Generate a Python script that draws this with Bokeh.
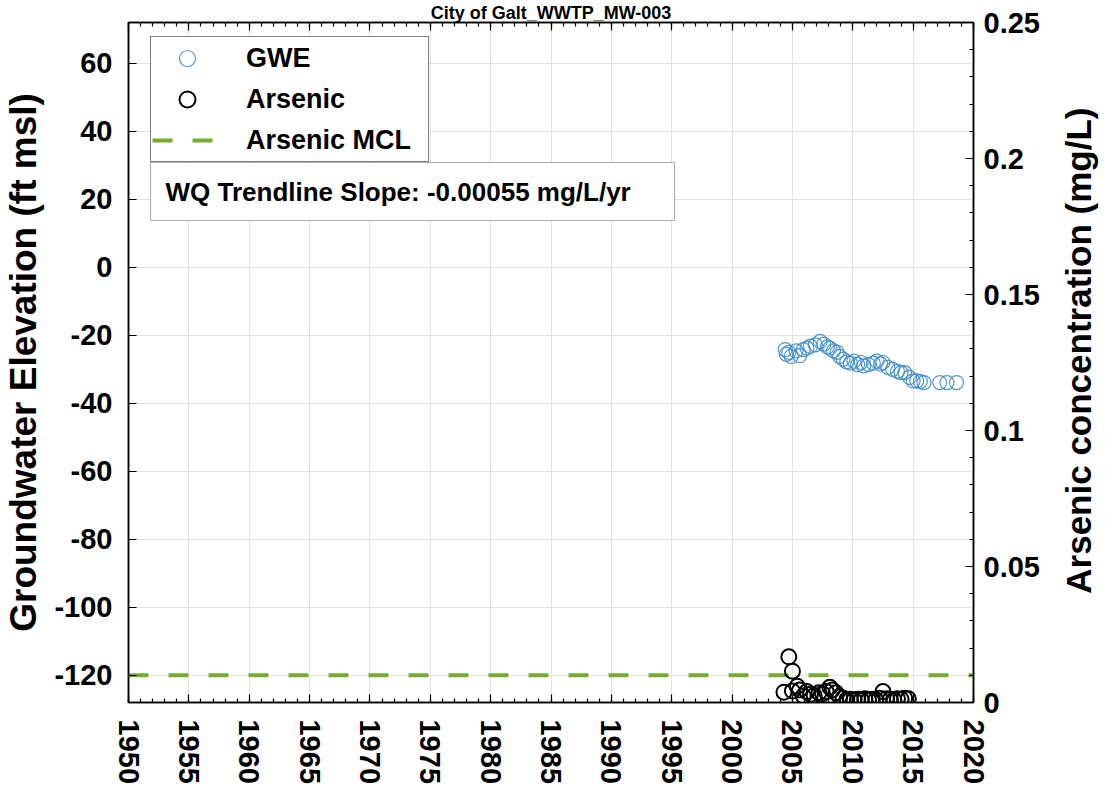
import math
from bokeh.plotting import figure
from bokeh.layouts import row
from bokeh.models import (Range1d, LinearAxis, FixedTicker, CustomJSTickFormatter,
                          Legend, LegendItem, Label, BoxAnnotation, Grid)
from bokeh.core.properties import value
from bokeh.embed import file_html
from bokeh.resources import INLINE

# ---------------- data ----------------
title_text = "City of Galt_WWTP_MW-003"
left_label = "Groundwater Elevation (ft msl)"
right_label = "Arsenic concentration (mg/L)"
slope_text = "WQ Trendline Slope: -0.00055 mg/L/yr"

x_ticks = [1950, 1955, 1960, 1965, 1970, 1975, 1980, 1985, 1990, 1995, 2000, 2005, 2010, 2015, 2020]
x_minor = list(range(1950, 2021))
gwe_ticks = [-120, -100, -80, -60, -40, -20, 0, 20, 40, 60]
as_ticks = [0, 0.05, 0.1, 0.15, 0.2, 0.25]
as_minor = [0, 0.01, 0.02, 0.03, 0.04, 0.05, 0.06, 0.07, 0.08, 0.09, 0.1, 0.11, 0.12,
            0.13, 0.14, 0.15, 0.16, 0.17, 0.18, 0.19, 0.2, 0.21, 0.22, 0.23, 0.24, 0.25]

gwe_year = [2004.4, 2004.5, 2004.7, 2004.9, 2005.3, 2005.6, 2005.9, 2006.2, 2006.5, 2006.9,
            2007.3, 2007.6, 2007.9, 2008.1, 2008.4, 2008.7, 2008.9, 2009.2, 2009.5, 2009.8,
            2010.1, 2010.4, 2010.7, 2010.9, 2011.3, 2011.7, 2012.0, 2012.3, 2012.5, 2012.9,
            2013.3, 2013.7, 2014.0, 2014.3, 2014.7, 2015.0, 2015.3, 2015.6, 2015.9,
            2017.2, 2017.8, 2018.6]
gwe_value = [-24.2, -25.6, -25.0, -26.2, -24.6, -26.0, -24.2, -23.8, -23.2, -22.8,
             -21.8, -22.6, -23.4, -23.8, -24.6, -25.0, -26.2, -27.0, -27.8, -28.2,
             -27.6, -28.6, -28.0, -29.0, -28.6, -28.2, -27.6, -28.4, -28.0, -29.4,
             -30.0, -30.6, -31.0, -31.0, -32.4, -33.4, -33.4, -33.6, -33.9,
             -33.9, -33.9, -33.9]

as_year = [2004.3, 2004.7, 2005.0, 2005.0, 2005.4, 2005.6, 2005.9, 2006.2, 2006.5, 2006.8,
           2007.2, 2007.5, 2007.8, 2008.1, 2008.3, 2008.6, 2008.9, 2009.2, 2009.5, 2009.8,
           2010.1, 2010.4, 2010.7, 2011.0, 2011.3, 2011.6, 2011.9, 2012.2, 2012.5, 2012.8,
           2013.1, 2013.4, 2013.7, 2014.0, 2014.3, 2014.6]
as_value = [0.0038, 0.0168, 0.0115, 0.0042, 0.0060, 0.0046, 0.0024, 0.0040, 0.0030, 0.0026,
            0.0036, 0.0032, 0.0040, 0.0056, 0.0046, 0.0036, 0.0022, 0.0016, 0.0010, 0.0012,
            0.0010, 0.0012, 0.0010, 0.0014, 0.0010, 0.0012, 0.0010, 0.0016, 0.0040, 0.0014,
            0.0012, 0.0010, 0.0014, 0.0012, 0.0016, 0.0014]

mcl_years = [1950, 2020]
mcl_value = [0.01, 0.01]

x_lim = (1950, 2020)
gwe_lim = (-128, 72)
as_lim = (0, 0.25)

# ---------------- layout / styles ----------------
FONT = "Liberation Sans"
BLUE = "#3d8cc6"
GREEN = "#77AC30"
GRID = "#e2e2e2"

FW, FH = 845, 680
TOP, BOTTOM, LEFT, RIGHT = 22, 82, 126, 80
H = TOP + FH + BOTTOM

p = figure(frame_width=FW, frame_height=FH,
           x_range=Range1d(*x_lim), y_range=Range1d(*gwe_lim),
           x_axis_type=None, y_axis_type=None,
           output_backend="svg", toolbar_location=None,
           min_border_left=LEFT, min_border_right=RIGHT,
           min_border_top=TOP, min_border_bottom=BOTTOM)
p.extra_y_ranges = {"as": Range1d(*as_lim)}
p.outline_line_color = "black"
p.outline_line_width = 1.5
p.background_fill_color = "white"
p.border_fill_color = "white"
p.title.text = title_text
p.title.align = "center"
p.title.text_font = FONT
p.title.text_font_style = "bold"
p.title.text_font_size = "18px"
p.title.text_color = "black"
p.title.standoff = 0

x_ticker = FixedTicker(ticks=x_ticks, minor_ticks=x_minor)
gwe_ticker = FixedTicker(ticks=gwe_ticks, minor_ticks=[])
as_ticker = FixedTicker(ticks=as_ticks, minor_ticks=as_minor)
plain = CustomJSTickFormatter(code="return tick.toString()")


def style_axis(ax):
    ax.axis_line_color = "black"
    ax.axis_line_width = 1.5
    ax.major_tick_in = 8
    ax.major_tick_out = 0
    ax.minor_tick_in = 4
    ax.minor_tick_out = 0
    ax.major_tick_line_color = "black"
    ax.minor_tick_line_color = "black"
    ax.major_tick_line_width = 1.2
    ax.minor_tick_line_width = 1.2
    ax.major_label_text_font = FONT
    ax.major_label_text_font_style = "bold"
    ax.major_label_text_font_size = "29px"
    ax.major_label_text_color = "black"


p.add_layout(Grid(dimension=0, ticker=x_ticker, grid_line_color=GRID, grid_line_width=1))
p.add_layout(Grid(dimension=1, ticker=gwe_ticker, grid_line_color=GRID, grid_line_width=1))

xb = LinearAxis(ticker=x_ticker, formatter=plain)
style_axis(xb)
xb.major_label_orientation = -math.pi / 2
xb.major_label_standoff = 17
p.add_layout(xb, "below")

xt = LinearAxis(ticker=x_ticker, formatter=CustomJSTickFormatter(code="return ''"))
style_axis(xt)
xt.major_label_text_font_size = "1px"
xt.major_label_standoff = 0
p.add_layout(xt, "above")

yl = LinearAxis(ticker=gwe_ticker, formatter=plain)
style_axis(yl)
yl.major_label_standoff = 16
yl.axis_label = left_label
yl.axis_label_text_font = FONT
yl.axis_label_text_font_style = "bold"
yl.axis_label_text_font_size = "37px"
yl.axis_label_text_color = "black"
yl.axis_label_standoff = 7
p.add_layout(yl, "left")

yr = LinearAxis(ticker=as_ticker, y_range_name="as", formatter=plain)
style_axis(yr)
yr.major_label_standoff = 10
p.add_layout(yr, "right")

r_mcl = p.line(mcl_years, mcl_value, y_range_name="as", line_color=GREEN,
               line_width=4, line_dash="20 20")
r_as = p.scatter(as_year, as_value, y_range_name="as", marker="circle", size=15,
                 fill_color=None, line_color="black", line_width=2)
r_gwe = p.scatter(gwe_year, gwe_value, marker="circle", size=14,
                  fill_color=None, line_color=BLUE, line_width=1.2, line_alpha=0.9)

legend = Legend(items=[LegendItem(label="GWE", renderers=[r_gwe]),
                       LegendItem(label="Arsenic", renderers=[r_as]),
                       LegendItem(label="Arsenic MCL", renderers=[r_mcl])],
                location=(22, FH - 140), orientation="vertical",
                border_line_color="black", border_line_width=1.2,
                background_fill_color="white", background_fill_alpha=1.0,
                padding=1, spacing=1, margin=0,
                glyph_width=70, glyph_height=40, label_height=40, label_width=181,
                label_standoff=24, label_text_font=FONT, label_text_font_style="bold",
                label_text_font_size="27px", label_text_color="black")
p.add_layout(legend)

box = BoxAnnotation(left=22, right=546, top=FH - 140, bottom=FH - 198,
                    left_units="screen", right_units="screen",
                    top_units="screen", bottom_units="screen",
                    fill_color="white", fill_alpha=1.0,
                    line_color="black", line_width=1.2)
p.add_layout(box)

p.add_layout(Label(x=37, y=FH - 169, x_units="screen", y_units="screen", text=slope_text,
                   text_align="left", text_baseline="middle", text_font=FONT,
                   text_font_style="bold", text_font_size="26px", text_color="black"))

# right-hand axis title, reading bottom-to-top, in a narrow companion canvas
LW = 46
q = figure(width=LW, height=H, x_range=Range1d(0, LW), y_range=Range1d(H, 0),
           x_axis_type=None, y_axis_type=None, output_backend="svg",
           toolbar_location=None, min_border=0)
q.outline_line_color = None
q.background_fill_color = "white"
q.border_fill_color = "white"
q.text(x=[LW / 2 + 2], y=[380], text=[right_label], angle=math.pi / 2,
       text_align="center", text_baseline="middle", text_font=value(FONT),
       text_font_style="bold", text_font_size="35px", text_color="black")

layout = row(p, q, spacing=0)
open("out.html", "w").write(file_html(layout, INLINE))
